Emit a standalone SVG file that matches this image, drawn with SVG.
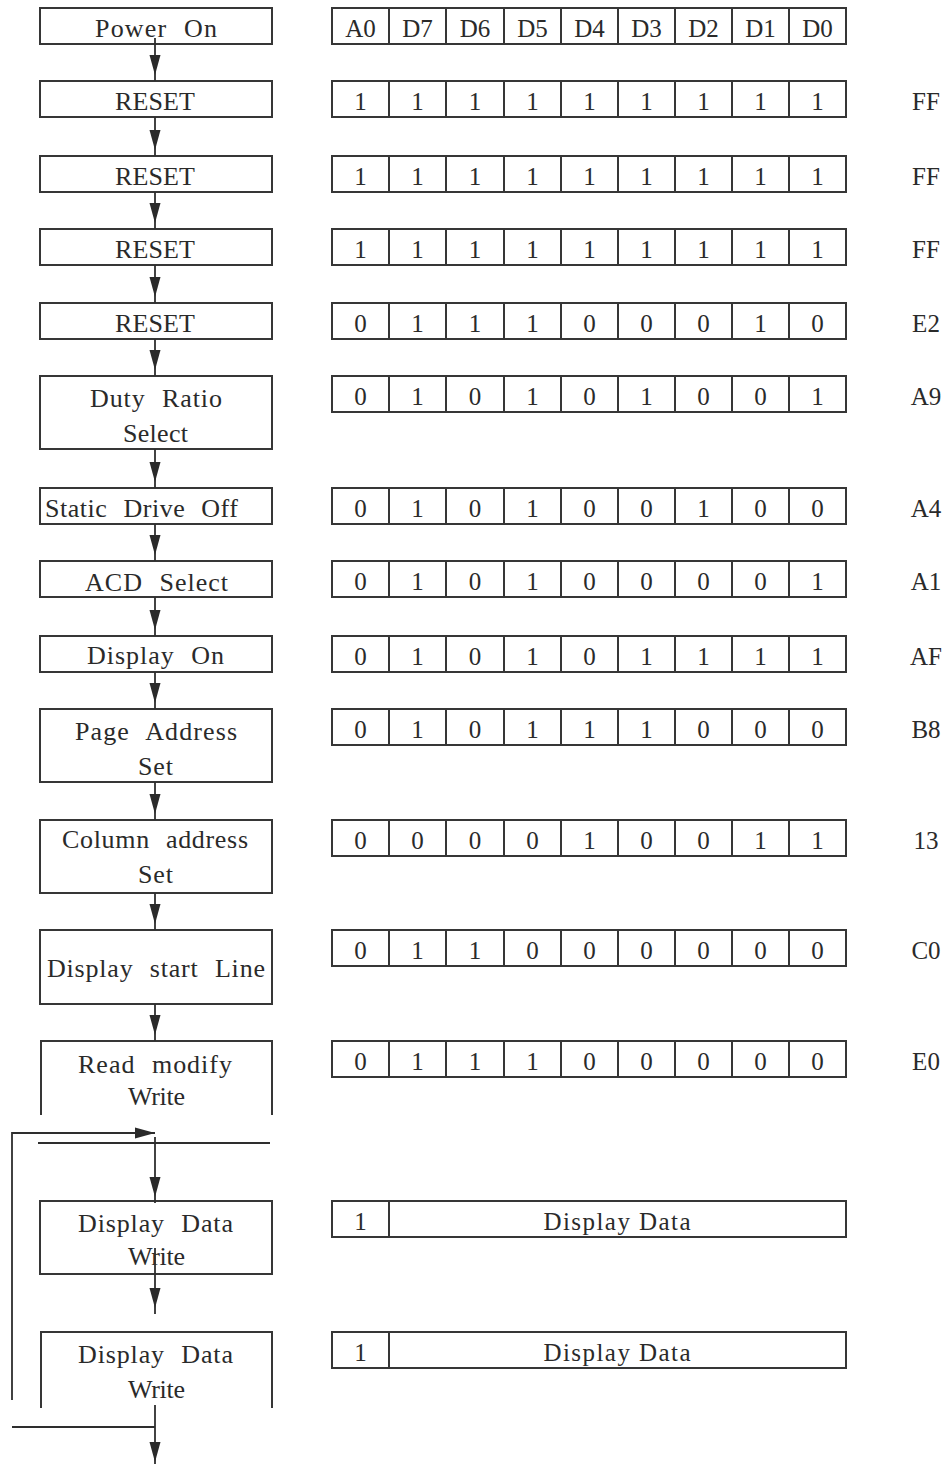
<svg xmlns="http://www.w3.org/2000/svg" width="948" height="1464" viewBox="0 0 948 1464">
<style>
.bx{fill:none;stroke:#363636;stroke-width:2}
.ln{fill:none;stroke:#2e2e2e;stroke-width:1.8}
.t{font-family:"Liberation Serif","DejaVu Serif",serif;font-size:26px;fill:#2a2a2a;text-anchor:middle;word-spacing:9px}
.c{font-family:"Liberation Serif","DejaVu Serif",serif;font-size:25px;fill:#2a2a2a;text-anchor:middle}
</style>
<defs>
<marker id="ah" markerUnits="userSpaceOnUse" markerWidth="30" markerHeight="12" refX="26" refY="5.5" orient="auto" overflow="visible">
<path d="M0,0 L20,5.5 L0,11 z" fill="#2a2a2a"/>
</marker>
<marker id="ah0" markerUnits="userSpaceOnUse" markerWidth="30" markerHeight="12" refX="20" refY="5.5" orient="auto" overflow="visible">
<path d="M0,0 L20,5.5 L0,11 z" fill="#2a2a2a"/>
</marker>
</defs>
<rect width="948" height="1464" fill="#fff"/>

<g id="n-power-on"><rect class="bx" x="40" y="8" width="232" height="36"/><text class="t" x="156" y="37" textLength="122" lengthAdjust="spacing">Power  On</text></g>
<g id="n-reset1"><rect class="bx" x="40" y="81" width="232" height="36"/><text class="t" x="155" y="110" textLength="80" lengthAdjust="spacing">RESET</text></g>
<g id="n-reset2"><rect class="bx" x="40" y="156" width="232" height="36"/><text class="t" x="155" y="185" textLength="80" lengthAdjust="spacing">RESET</text></g>
<g id="n-reset3"><rect class="bx" x="40" y="229" width="232" height="36"/><text class="t" x="155" y="258" textLength="80" lengthAdjust="spacing">RESET</text></g>
<g id="n-reset4"><rect class="bx" x="40" y="303" width="232" height="36"/><text class="t" x="155" y="332" textLength="80" lengthAdjust="spacing">RESET</text></g>
<g id="n-duty"><rect class="bx" x="40" y="376" width="232" height="73"/><text class="t" x="156" y="407" textLength="132" lengthAdjust="spacing">Duty  Ratio</text><text class="t" x="155.5" y="442" textLength="65" lengthAdjust="spacing">Select</text></g>
<g id="n-static"><rect class="bx" x="40" y="488" width="232" height="36"/><text class="t" x="141.5" y="517" textLength="193" lengthAdjust="spacing">Static Drive  Off</text></g>
<g id="n-acd"><rect class="bx" x="40" y="561" width="232" height="36"/><text class="t" x="156.5" y="591" textLength="143" lengthAdjust="spacing">ACD  Select</text></g>
<g id="n-display-on"><rect class="bx" x="40" y="636" width="232" height="36"/><text class="t" x="155.5" y="664" textLength="137" lengthAdjust="spacing">Display  On</text></g>
<g id="n-page"><rect class="bx" x="40" y="709" width="232" height="73"/><text class="t" x="156" y="740" textLength="162" lengthAdjust="spacing">Page  Address</text><text class="t" x="155.5" y="775" textLength="35" lengthAdjust="spacing">Set</text></g>
<g id="n-column"><rect class="bx" x="40" y="820" width="232" height="73"/><text class="t" x="155" y="848" textLength="186" lengthAdjust="spacing">Column  address</text><text class="t" x="155.5" y="883" textLength="35" lengthAdjust="spacing">Set</text></g>
<g id="n-start-line"><rect class="bx" x="40" y="930" width="232" height="74"/><text class="t" x="156" y="977" textLength="218" lengthAdjust="spacing">Display  start  Line</text></g>
<g id="n-rmw"><path class="bx" d="M41,1115 V1041 H272 V1115"/><text class="t" x="155" y="1073" textLength="154" lengthAdjust="spacing">Read  modify</text><text class="t" x="156.5" y="1105" textLength="57" lengthAdjust="spacing">Write</text></g>
<g id="n-ddw1"><rect class="bx" x="40" y="1201" width="232" height="73"/><text class="t" x="155.5" y="1232" textLength="155" lengthAdjust="spacing">Display  Data</text><text class="t" x="156.5" y="1265" textLength="57" lengthAdjust="spacing">Write</text></g>
<g id="n-ddw2"><path class="bx" d="M41,1408 V1332 H272 V1408"/><text class="t" x="155.5" y="1363" textLength="155" lengthAdjust="spacing">Display  Data</text><text class="t" x="156.5" y="1398" textLength="57" lengthAdjust="spacing">Write</text></g>

<g id="connectors">
<line class="ln" x1="155" y1="38" x2="155" y2="81" marker-end="url(#ah)"/>
<line class="ln" x1="155" y1="117" x2="155" y2="156" marker-end="url(#ah)"/>
<line class="ln" x1="155" y1="192" x2="155" y2="229" marker-end="url(#ah)"/>
<line class="ln" x1="155" y1="265" x2="155" y2="303" marker-end="url(#ah)"/>
<line class="ln" x1="155" y1="339" x2="155" y2="376" marker-end="url(#ah)"/>
<line class="ln" x1="155" y1="449" x2="155" y2="488" marker-end="url(#ah)"/>
<line class="ln" x1="155" y1="524" x2="155" y2="561" marker-end="url(#ah)"/>
<line class="ln" x1="155" y1="597" x2="155" y2="636" marker-end="url(#ah)"/>
<line class="ln" x1="155" y1="672" x2="155" y2="709" marker-end="url(#ah)"/>
<line class="ln" x1="155" y1="782" x2="155" y2="820" marker-end="url(#ah)"/>
<line class="ln" x1="155" y1="893" x2="155" y2="930" marker-end="url(#ah)"/>
<line class="ln" x1="155" y1="1004" x2="155" y2="1041" marker-end="url(#ah)"/>
<line class="ln" x1="38" y1="1143" x2="270" y2="1143"/>
<line class="ln" x1="155" y1="1137" x2="155" y2="1203" marker-end="url(#ah)"/>
<polyline class="ln" points="12,1400 12,1133 155,1133" marker-end="url(#ah0)"/>
<line class="ln" x1="155" y1="1248" x2="155" y2="1314" marker-end="url(#ah)"/>
<line class="ln" x1="12" y1="1427" x2="155" y2="1427"/>
<line class="ln" x1="155" y1="1405" x2="155" y2="1468" marker-end="url(#ah)"/>
</g>

<g id="row-header"><rect class="bx" x="332" y="8" width="514" height="36"/><path class="bx" d="M389,8V44M446,8V44M504,8V44M561,8V44M618,8V44M675,8V44M732,8V44M789,8V44"/>
<text class="c" y="37"><tspan x="360.5">A0</tspan><tspan x="417.5">D7</tspan><tspan x="475">D6</tspan><tspan x="532.5">D5</tspan><tspan x="589.5">D4</tspan><tspan x="646.5">D3</tspan><tspan x="703.5">D2</tspan><tspan x="760.5">D1</tspan><tspan x="817.5">D0</tspan></text></g>

<g id="row-ff1"><rect class="bx" x="332" y="81" width="514" height="36"/><path class="bx" d="M389,81v36M446,81v36M504,81v36M561,81v36M618,81v36M675,81v36M732,81v36M789,81v36"/><text class="c" y="110"><tspan x="360.5">1</tspan><tspan x="417.5">1</tspan><tspan x="475">1</tspan><tspan x="532.5">1</tspan><tspan x="589.5">1</tspan><tspan x="646.5">1</tspan><tspan x="703.5">1</tspan><tspan x="760.5">1</tspan><tspan x="817.5">1</tspan></text><text class="c" x="926" y="110">FF</text></g>
<g id="row-ff2"><rect class="bx" x="332" y="156" width="514" height="36"/><path class="bx" d="M389,156v36M446,156v36M504,156v36M561,156v36M618,156v36M675,156v36M732,156v36M789,156v36"/><text class="c" y="185"><tspan x="360.5">1</tspan><tspan x="417.5">1</tspan><tspan x="475">1</tspan><tspan x="532.5">1</tspan><tspan x="589.5">1</tspan><tspan x="646.5">1</tspan><tspan x="703.5">1</tspan><tspan x="760.5">1</tspan><tspan x="817.5">1</tspan></text><text class="c" x="926" y="185">FF</text></g>
<g id="row-ff3"><rect class="bx" x="332" y="229" width="514" height="36"/><path class="bx" d="M389,229v36M446,229v36M504,229v36M561,229v36M618,229v36M675,229v36M732,229v36M789,229v36"/><text class="c" y="258"><tspan x="360.5">1</tspan><tspan x="417.5">1</tspan><tspan x="475">1</tspan><tspan x="532.5">1</tspan><tspan x="589.5">1</tspan><tspan x="646.5">1</tspan><tspan x="703.5">1</tspan><tspan x="760.5">1</tspan><tspan x="817.5">1</tspan></text><text class="c" x="926" y="258">FF</text></g>
<g id="row-e2"><rect class="bx" x="332" y="303" width="514" height="36"/><path class="bx" d="M389,303v36M446,303v36M504,303v36M561,303v36M618,303v36M675,303v36M732,303v36M789,303v36"/><text class="c" y="332"><tspan x="360.5">0</tspan><tspan x="417.5">1</tspan><tspan x="475">1</tspan><tspan x="532.5">1</tspan><tspan x="589.5">0</tspan><tspan x="646.5">0</tspan><tspan x="703.5">0</tspan><tspan x="760.5">1</tspan><tspan x="817.5">0</tspan></text><text class="c" x="926" y="332">E2</text></g>
<g id="row-a9"><rect class="bx" x="332" y="376" width="514" height="36"/><path class="bx" d="M389,376v36M446,376v36M504,376v36M561,376v36M618,376v36M675,376v36M732,376v36M789,376v36"/><text class="c" y="405"><tspan x="360.5">0</tspan><tspan x="417.5">1</tspan><tspan x="475">0</tspan><tspan x="532.5">1</tspan><tspan x="589.5">0</tspan><tspan x="646.5">1</tspan><tspan x="703.5">0</tspan><tspan x="760.5">0</tspan><tspan x="817.5">1</tspan></text><text class="c" x="926" y="405">A9</text></g>
<g id="row-a4"><rect class="bx" x="332" y="488" width="514" height="36"/><path class="bx" d="M389,488v36M446,488v36M504,488v36M561,488v36M618,488v36M675,488v36M732,488v36M789,488v36"/><text class="c" y="517"><tspan x="360.5">0</tspan><tspan x="417.5">1</tspan><tspan x="475">0</tspan><tspan x="532.5">1</tspan><tspan x="589.5">0</tspan><tspan x="646.5">0</tspan><tspan x="703.5">1</tspan><tspan x="760.5">0</tspan><tspan x="817.5">0</tspan></text><text class="c" x="926" y="517">A4</text></g>
<g id="row-a1"><rect class="bx" x="332" y="561" width="514" height="36"/><path class="bx" d="M389,561v36M446,561v36M504,561v36M561,561v36M618,561v36M675,561v36M732,561v36M789,561v36"/><text class="c" y="590"><tspan x="360.5">0</tspan><tspan x="417.5">1</tspan><tspan x="475">0</tspan><tspan x="532.5">1</tspan><tspan x="589.5">0</tspan><tspan x="646.5">0</tspan><tspan x="703.5">0</tspan><tspan x="760.5">0</tspan><tspan x="817.5">1</tspan></text><text class="c" x="926" y="590">A1</text></g>
<g id="row-af"><rect class="bx" x="332" y="636" width="514" height="36"/><path class="bx" d="M389,636v36M446,636v36M504,636v36M561,636v36M618,636v36M675,636v36M732,636v36M789,636v36"/><text class="c" y="665"><tspan x="360.5">0</tspan><tspan x="417.5">1</tspan><tspan x="475">0</tspan><tspan x="532.5">1</tspan><tspan x="589.5">0</tspan><tspan x="646.5">1</tspan><tspan x="703.5">1</tspan><tspan x="760.5">1</tspan><tspan x="817.5">1</tspan></text><text class="c" x="926" y="665">AF</text></g>
<g id="row-b8"><rect class="bx" x="332" y="709" width="514" height="36"/><path class="bx" d="M389,709v36M446,709v36M504,709v36M561,709v36M618,709v36M675,709v36M732,709v36M789,709v36"/><text class="c" y="738"><tspan x="360.5">0</tspan><tspan x="417.5">1</tspan><tspan x="475">0</tspan><tspan x="532.5">1</tspan><tspan x="589.5">1</tspan><tspan x="646.5">1</tspan><tspan x="703.5">0</tspan><tspan x="760.5">0</tspan><tspan x="817.5">0</tspan></text><text class="c" x="926" y="738">B8</text></g>
<g id="row-13"><rect class="bx" x="332" y="820" width="514" height="36"/><path class="bx" d="M389,820v36M446,820v36M504,820v36M561,820v36M618,820v36M675,820v36M732,820v36M789,820v36"/><text class="c" y="849"><tspan x="360.5">0</tspan><tspan x="417.5">0</tspan><tspan x="475">0</tspan><tspan x="532.5">0</tspan><tspan x="589.5">1</tspan><tspan x="646.5">0</tspan><tspan x="703.5">0</tspan><tspan x="760.5">1</tspan><tspan x="817.5">1</tspan></text><text class="c" x="926" y="849">13</text></g>
<g id="row-c0"><rect class="bx" x="332" y="930" width="514" height="36"/><path class="bx" d="M389,930v36M446,930v36M504,930v36M561,930v36M618,930v36M675,930v36M732,930v36M789,930v36"/><text class="c" y="959"><tspan x="360.5">0</tspan><tspan x="417.5">1</tspan><tspan x="475">1</tspan><tspan x="532.5">0</tspan><tspan x="589.5">0</tspan><tspan x="646.5">0</tspan><tspan x="703.5">0</tspan><tspan x="760.5">0</tspan><tspan x="817.5">0</tspan></text><text class="c" x="926" y="959">C0</text></g>
<g id="row-e0"><rect class="bx" x="332" y="1041" width="514" height="36"/><path class="bx" d="M389,1041v36M446,1041v36M504,1041v36M561,1041v36M618,1041v36M675,1041v36M732,1041v36M789,1041v36"/><text class="c" y="1070"><tspan x="360.5">0</tspan><tspan x="417.5">1</tspan><tspan x="475">1</tspan><tspan x="532.5">1</tspan><tspan x="589.5">0</tspan><tspan x="646.5">0</tspan><tspan x="703.5">0</tspan><tspan x="760.5">0</tspan><tspan x="817.5">0</tspan></text><text class="c" x="926" y="1070">E0</text></g>
<g id="row-dd1"><rect class="bx" x="332" y="1201" width="514" height="36"/><path class="bx" d="M389,1201v36"/><text class="c" x="617" y="1230" textLength="147" lengthAdjust="spacing">Display Data</text><text class="c" x="360.5" y="1230">1</text></g>
<g id="row-dd2"><rect class="bx" x="332" y="1332" width="514" height="36"/><path class="bx" d="M389,1332v36"/><text class="c" x="617" y="1361" textLength="147" lengthAdjust="spacing">Display Data</text><text class="c" x="360.5" y="1361">1</text></g>
</svg>
